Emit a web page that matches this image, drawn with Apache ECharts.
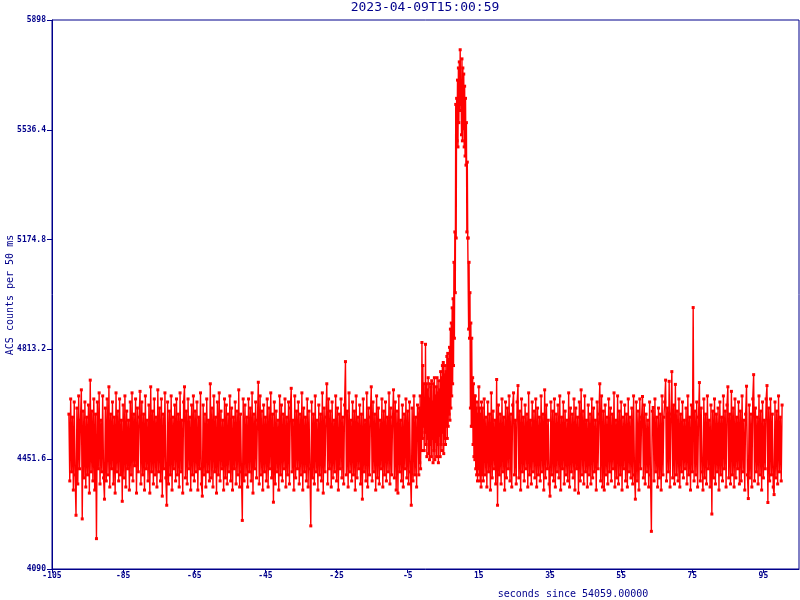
<!DOCTYPE html>
<html>
<head>
<meta charset="utf-8">
<script src="https://cdn.jsdelivr.net/npm/echarts@6/dist/echarts.min.js"></script>
<style>html,body{margin:0;padding:0;background:#fff}#c{width:800px;height:600px}</style>
</head>
<body>
<div id="c"></div>
<script>
// ---- data (ACS counts per 50 ms) ----
const titleText = '2023-04-09T15:00:59';
const xName = 'seconds since 54059.00000';
const yName = 'ACS counts per 50 ms';
const dt = 0.25;            // sampling step of the quiet segments (s)
const dtBurst = 0.125;      // sampling step of the burst segment (s)
const preStart = -100.25;   // pre-burst segment start time (s)
const preBurst = [
4600,4380,4650,4410,4590,4350,4640,4400,4267,4620,4370,4660,4420,4580,4680,4255,4610,4390,4640,4360,
4590,4400,4630,4340,4712,4410,4610,4380,4650,4350,4600,4190,4640,4420,4670,4370,4580,4410,4660,4390,
4320,4620,4380,4650,4400,4690,4360,4600,4420,4640,4370,4590,4340,4670,4410,4610,4380,4650,4400,4580,
4313,4630,4390,4660,4360,4610,4420,4580,4350,4640,4400,4670,4380,4600,4430,4650,4340,4620,4410,4590,
4675,4370,4640,4400,4600,4350,4660,4420,4580,4380,4630,4340,4690,4410,4610,4370,4650,4400,4590,4360,
4680,4410,4620,4380,4650,4330,4600,4420,4670,4390,4300,4640,4370,4610,4400,4660,4350,4590,4420,4630,
4380,4650,4400,4600,4360,4670,4410,4580,4340,4640,4690,4390,4610,4370,4650,4420,4590,4350,4630,4400,
4660,4380,4610,4410,4640,4350,4590,4420,4670,4370,4330,4630,4400,4600,4360,4650,4410,4580,4380,4700,
4390,4620,4360,4660,4410,4590,4340,4640,4400,4670,4380,4610,4420,4580,4350,4650,4390,4630,4370,4600,
4410,4660,4380,4620,4350,4590,4420,4640,4370,4610,4400,4680,4360,4600,4410,4250,4650,4380,4630,4400,
4590,4360,4650,4410,4620,4380,4670,4340,4600,4420,4640,4390,4580,4705,4370,4660,4400,4610,4350,4630,
4410,4590,4380,4650,4360,4620,4420,4670,4390,4600,4310,4640,4370,4610,4410,4580,4350,4660,4400,4630,
4380,4600,4420,4650,4360,4590,4400,4640,4370,4620,4685,4410,4580,4350,4660,4390,4610,4420,4640,4370,
4600,4400,4670,4350,4620,4410,4590,4380,4650,4360,4610,4420,4232,4640,4390,4600,4370,4660,4410,4580,
4350,4630,4400,4600,4380,4670,4340,4620,4410,4590,4700,4370,4650,4420,4610,4360,4640,4390,4580,4410,
4660,4380,4620,4350,4600,4420,4650,4390,4590,4370,4630,4773,4400,4610,4360,4670,4410,4580,4380,4640,
4400,4610,4350,4660,4390,4590,4420,4630,4370,4600,4320,4650,4410,4580,4380,4670,4360,4620,4400,4590,
4690,4380,4640,4410,4600,4350,4660,4390,4620,4370,4580,4420,4650,4360,4610,4400,4640,4380,4590,4410,
4670,4370,4620,4400,4590,4680,4390,4640,4350,4610,4340,4660,4410,4580,4380,4630,4360,4600,4420,4650,
4390,4610,4370,4640,4410,4300,4620,4380,4660,4400,4590,4360,4630
];
const burstStart = -2.0;    // precursor + main peak segment
const burst = [
4560,4400,4620,4440,4660,4420,4600,4480,
4836,4520,4760,4560,4700,4480,4640,4540,
4830,4500,4700,4460,4680,4520,4720,4470,
4650,4450,4700,4500,4690,4460,4710,4520,
4640,4440,4700,4480,4720,4450,4660,4510,
4690,4460,4720,4500,4670,4440,4710,4530,
4680,4460,4740,4500,4720,4480,4760,4540,
4770,4470,4730,4520,4760,4500,4740,4560,
4790,4520,4800,4560,4780,4600,4820,4580,
4880,4620,4900,4660,4950,4700,4980,4760,
5100,4850,5200,5000,5620,5180,5640,5500,
5700,5480,5740,5560,5760,5600,5800,5620,
5690,5520,5770,5500,5740,5540,5720,5480,
5680,5450,5640,5420,5560,5200,5430,5180,
5180,4880,5100,4850,5000,4620,4900,4560,
4850,4560,4720,4500,4700,4460,4660,4450,
4660,4420,4620,4400,4640,4380,4600,4420,
4690,4400,4620,4380,4600,4360,4640,4400
];
const postStart = 16.0;     // post-burst segment start time (s)
const postBurst = [
4620,4380,4650,4400,4590,4360,4640,4410,4600,4350,4670,4390,4610,4420,4580,4370,4714,4300,4630,4400,
4600,4370,4650,4410,4590,4350,4640,4390,4620,4420,4660,4380,4600,4360,4630,4670,4400,4580,4370,4640,
4694,4390,4610,4350,4650,4410,4590,4380,4630,4420,4600,4360,4670,4400,4580,4370,4640,4410,4610,4390,
4650,4360,4620,4400,4590,4380,4660,4410,4600,4350,4680,4390,4630,4420,4580,4370,4330,4640,4400,4610,
4380,4650,4360,4600,4410,4630,4390,4660,4350,4590,4420,4640,4370,4610,4400,4580,4380,4670,4360,4620,
4410,4600,4390,4650,4350,4620,4420,4590,4340,4640,4380,4680,4400,4610,4370,4660,4410,4580,4360,4630,
4400,4600,4370,4650,4390,4620,4410,4580,4350,4640,4420,4600,4700,4380,4660,4360,4610,4350,4630,4400,
4590,4370,4650,4410,4620,4380,4600,4420,4670,4360,4580,4390,4660,4370,4610,4400,4640,4350,4590,4420,
4630,4380,4600,4360,4650,4410,4590,4390,4620,4370,4660,4400,4320,4640,4380,4610,4350,4650,4420,4590,
4658,4390,4630,4370,4600,4410,4580,4360,4640,4400,4214,4610,4622,4380,4650,4410,4590,4360,4620,4390,
4600,4350,4660,4400,4590,4640,4712,4380,4620,4410,4708,4360,4600,4740,4390,4630,4370,4698,4400,4610,
4380,4650,4360,4600,4410,4640,4390,4580,4420,4620,4370,4660,4400,4590,4350,4630,4410,4951,4380,4610,
4400,4640,4360,4590,4704,4380,4620,4410,4350,4650,4390,4600,4370,4660,4420,4580,4360,4630,4271,4610,
4390,4650,4370,4600,4410,4620,4350,4640,4400,4590,4380,4660,4420,4610,4360,4630,4690,4390,4600,4370,
4675,4400,4620,4360,4650,4390,4590,4420,4640,4370,4610,4380,4660,4410,4580,4350,4600,4692,4400,4322,
4630,4390,4600,4360,4650,4730,4380,4620,4410,4590,4370,4660,4400,4610,4350,4640,4390,4580,4420,4650,
4694,4309,4620,4380,4650,4400,4600,4360,4335,4640,4390,4610,4370,4660,4410,4590,4380,4630
];
const xTicks = [-105, -85, -65, -45, -25, -5, 15, 35, 55, 75, 95];
const yTicks = [4090, 4451.6, 4813.2, 5174.8, 5536.4, 5898];
const xRange = [-105, 105];
const yRange = [4090, 5898];

// ---- build [time, value] pairs ----
function seg(start, vals, step) {
  const k = Math.round(start / step);
  return vals.map((v, i) => [(k + i) * step, v]);
}
const points = [].concat(
  seg(preStart, preBurst, dt),
  seg(burstStart, burst, dtBurst),
  seg(postStart, postBurst, dt)
);

const navy = '#00008b';
const mono = 'DejaVu Sans Mono';
const chart = echarts.init(document.getElementById('c'), null, {renderer: 'canvas'});
chart.setOption({
  animation: false,
  backgroundColor: '#ffffff',
  grid: {left: 52, right: 1, top: 20, bottom: 31, show: true, borderColor: navy, borderWidth: 1, backgroundColor: 'transparent'},
  xAxis: {
    type: 'value', min: xRange[0], max: xRange[1],
    axisLine: {show: true, onZero: false, lineStyle: {color: navy, width: 1}},
    axisTick: {show: true, length: 4, lineStyle: {color: navy}, customValues: xTicks},
    axisLabel: {color: navy, fontFamily: mono, fontSize: 8, fontWeight: 'bold', margin: 3, customValues: xTicks},
    splitLine: {show: false}
  },
  yAxis: {
    type: 'value', min: yRange[0], max: yRange[1],
    axisLine: {show: true, onZero: false, lineStyle: {color: navy, width: 1}},
    axisTick: {show: true, length: 5, lineStyle: {color: navy}, customValues: yTicks},
    axisLabel: {color: navy, fontFamily: mono, fontSize: 8, fontWeight: 'bold', margin: 6, customValues: yTicks,
      formatter: v => String(Math.round(v * 10) / 10)},
    splitLine: {show: false}
  },
  graphic: [
    {type: 'text', x: 425, y: 8, style: {text: titleText, fill: navy, font: '13px "DejaVu Sans Mono"', align: 'center', verticalAlign: 'middle'}},
    {type: 'text', x: 573, y: 594, style: {text: xName, fill: navy, font: '10px "DejaVu Sans Mono"', align: 'center', verticalAlign: 'middle'}},
    {type: 'text', x: 10, y: 295, rotation: Math.PI / 2, style: {text: yName, fill: navy, font: '10px "DejaVu Sans Mono"', align: 'center', verticalAlign: 'middle'}}
  ],
  series: [{
    type: 'line',
    data: points,
    symbol: 'rect',
    symbolSize: 3,
    showSymbol: true,
    showAllSymbol: true,
    sampling: null,
    clip: true,
    lineStyle: {color: '#ff0000', width: 1.4},
    itemStyle: {color: '#ff0000'},
    emphasis: {disabled: true}
  }]
});
</script>
</body>
</html>
